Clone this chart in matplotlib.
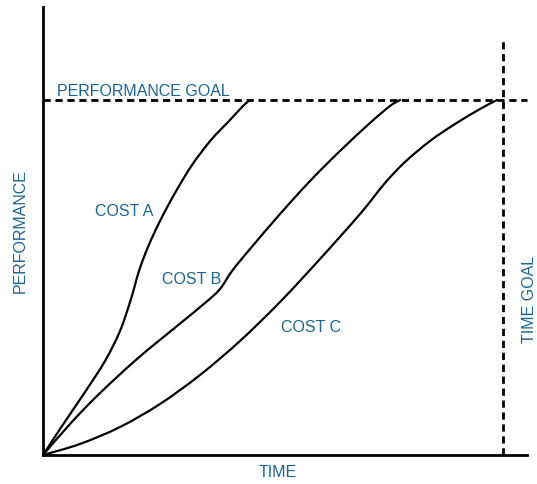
import matplotlib
matplotlib.use("Agg")
import matplotlib.pyplot as plt
from matplotlib.path import Path
from matplotlib.patches import PathPatch

# Data (time %, performance %)
cost_a_t = [0, 3.93, 8.68, 12.81, 15.91, 18.18, 19.83, 21.69, 24.17, 27.27, 30.79, 34.70, 38.64, 41.32, 42.77]
cost_a_p = [0, 6.47, 14.06, 20.98, 27.68, 34.82, 41.07, 46.43, 52.23, 58.48, 64.73, 70.30, 74.78, 77.90, 79.24]

cost_b_t = [0, 5.58, 11.36, 19.42, 27.69, 33.47, 36.57, 39.05, 42.77, 48.97, 55.17, 61.36, 67.56, 71.69, 73.76]
cost_b_p = [0, 6.92, 13.39, 21.43, 28.79, 33.93, 37.05, 41.07, 45.98, 53.79, 61.16, 67.86, 74.11, 77.90, 79.24]

cost_c_t = [0, 7.64, 15.91, 24.17, 32.44, 40.70, 48.97, 57.23, 65.50, 70.66, 74.79, 79.96, 85.12, 90.29, 93.80]
cost_c_p = [0, 2.46, 6.25, 11.38, 17.86, 25.45, 34.15, 43.75, 53.79, 60.71, 65.40, 70.09, 73.88, 77.23, 79.24]

performance_goal = 79.2
time_goal = 95.0
time_goal_top = 92.4

labels = ["COST A", "COST B", "COST C"]
label_pos = [(10.7, 54.5), (24.5, 39.5), (49.1, 28.6)]

BLUE = "#1c6592"
plt.rcParams['font.family'] = ['Liberation Sans', 'DejaVu Sans']
FS = 11.5


def smooth_path(xs, ys):
    pts = list(zip(xs, ys))
    n = len(pts)
    verts = [pts[0]]
    codes = [Path.MOVETO]
    for i in range(n - 1):
        p0 = pts[i - 1] if i > 0 else pts[i]
        p1 = pts[i]
        p2 = pts[i + 1]
        p3 = pts[i + 2] if i + 2 < n else pts[i + 1]
        c1 = (p1[0] + (p2[0] - p0[0]) / 6, p1[1] + (p2[1] - p0[1]) / 6)
        c2 = (p2[0] - (p3[0] - p1[0]) / 6, p2[1] - (p3[1] - p1[1]) / 6)
        verts += [c1, c2, p2]
        codes += [Path.CURVE4] * 3
    return Path(verts, codes)


fig = plt.figure(figsize=(5.37, 4.85), dpi=100)
ax = fig.add_axes([43/537, 29/485, 484/537, 448/485])
ax.set_xlim(0, 100)
ax.set_ylim(0, 100)
for s in ["top", "right"]:
    ax.spines[s].set_visible(False)
for s in ["left", "bottom"]:
    ax.spines[s].set_linewidth(2.0)
    ax.spines[s].set_color("black")
ax.set_xticks([])
ax.set_yticks([])

for t, p in [(cost_a_t, cost_a_p), (cost_b_t, cost_b_p), (cost_c_t, cost_c_p)]:
    patch = PathPatch(smooth_path(t, p), facecolor="none", edgecolor="black",
                      lw=1.6, capstyle="round", joinstyle="round", clip_on=False)
    ax.add_patch(patch)

ax.axhline(performance_goal, color="black", lw=2.0, dashes=(2.6, 1.7), clip_on=False)
ax.plot([time_goal, time_goal], [0, time_goal_top], color="black", lw=2.0, dashes=(2.6, 1.7), clip_on=False)

for lab, (x, y) in zip(labels, label_pos):
    ax.text(x, y, lab, color=BLUE, fontsize=FS, ha="left", va="center")

ax.text(2.9, performance_goal + 2.2, "PERFORMANCE GOAL", color=BLUE, fontsize=FS, ha="left", va="center")

fig.text(278/537, 1 - 473/485, "TIME", color=BLUE, fontsize=FS, ha="center", va="center")
fig.text(20/537, 1 - 231/485, "PERFORMANCE", color=BLUE, fontsize=FS, ha="center", va="center", rotation=90)
fig.text(530/537, 1 - 299/485, "TIME GOAL", color=BLUE, fontsize=FS, ha="center", va="center", rotation=90)

fig.savefig("out.png", dpi=100)
